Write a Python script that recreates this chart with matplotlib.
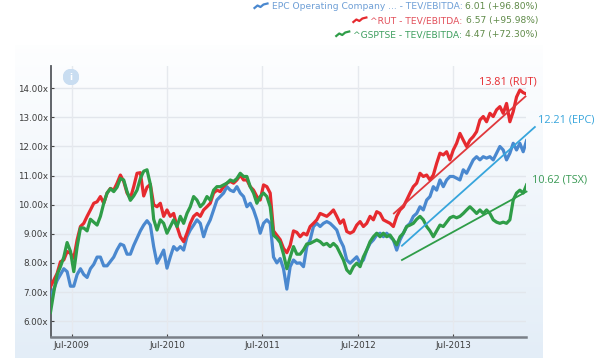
import numpy as np
import pandas as pd
import matplotlib
matplotlib.use("Agg")
import matplotlib.pyplot as plt
import matplotlib.dates as mdates
from matplotlib.lines import Line2D

# ---------------- data ----------------
start_date = "2009-04-11"
end_date = "2014-04-08"

rut = [7.18, 7.41, 7.64, 8.04, 8.10, 8.39, 8.33, 8.16, 8.79, 9.25,
       9.36, 9.60, 9.82, 10.05, 10.10, 10.28, 10.05, 10.40, 10.56, 10.50,
       10.74, 11.02, 10.80, 10.40, 10.22, 10.62, 11.08, 11.10, 10.30, 10.60,
       10.70, 10.00, 9.93, 10.05, 9.60, 9.82, 9.60, 9.70, 9.25, 8.90,
       8.73, 9.02, 9.36, 9.60, 9.70, 9.60, 9.82, 9.93, 10.05, 10.40,
       10.50, 10.45, 10.62, 10.74, 10.80, 10.74, 10.85, 11.02, 10.85, 10.85,
       10.62, 10.50, 10.28, 10.16, 10.68, 10.62, 10.40, 9.10, 8.95, 8.80,
       8.50, 8.35, 8.60, 9.10, 9.05,
       8.90, 9.02, 8.96, 9.25, 9.36, 9.48, 9.70, 9.65, 9.60, 9.70,
       9.82, 9.60, 9.36, 9.48, 9.08, 9.02, 9.08, 9.30, 9.42, 9.25,
       9.36, 9.60, 9.48, 9.76, 9.70, 9.48, 9.42, 9.36, 9.25, 9.60,
       9.82, 9.93, 10.16, 10.40, 10.62, 10.74, 11.08, 10.97, 11.02, 10.85,
       11.02, 11.42, 11.77, 11.71, 11.82, 11.54, 11.88, 12.11, 12.45, 12.22,
       12.00, 12.22, 12.34, 12.51, 12.91, 13.03, 12.85, 13.14, 13.03, 13.26,
       13.37, 13.14, 13.48, 12.85, 13.20, 13.70, 13.94, 13.85, 13.80]

epc = [6.85, 7.10, 7.40, 7.60, 7.80, 7.70, 7.20, 7.20, 7.60, 7.80,
       7.60, 7.50, 7.80, 7.95, 8.20, 8.20, 7.90, 7.90, 8.05, 8.20,
       8.45, 8.65, 8.60, 8.30, 8.30, 8.60, 8.85, 9.10, 9.30, 9.45,
       9.30, 8.56, 7.99, 8.21, 8.44, 7.82, 8.21, 8.56, 8.44, 8.56,
       8.44, 8.90, 9.13, 9.30, 9.48, 9.36, 8.90, 9.25, 9.48, 9.82,
       10.16, 10.28, 10.40, 10.62, 10.50, 10.45, 10.62, 10.40, 10.28, 9.93,
       10.05, 9.82, 9.48, 9.02, 9.36, 9.48, 9.36, 8.20, 8.00, 8.15,
       7.80, 7.10, 7.87, 8.10, 7.99,
       8.00, 7.87, 8.56, 8.79, 9.25, 9.36, 9.25, 9.36, 9.42, 9.36,
       9.25, 9.13, 8.79, 8.56, 8.10, 7.99, 8.10, 8.21, 7.99, 8.10,
       8.44, 8.67, 8.79, 8.96, 9.02, 8.90, 9.02, 8.90, 8.79, 8.44,
       8.79, 9.02, 9.25, 9.36, 9.60, 9.70, 9.93, 9.82, 10.16, 10.28,
       10.62, 10.50, 10.85, 10.62, 10.85, 10.97, 10.97, 10.91, 10.85, 11.20,
       11.08, 11.31, 11.54, 11.65, 11.54, 11.65, 11.60, 11.65, 11.54, 11.77,
       12.00, 11.88, 11.54, 11.77, 12.11, 11.88, 12.11, 11.82, 12.20]

tsx = [6.30, 7.00, 7.60, 7.87, 8.20, 8.70, 8.40, 7.70, 8.55, 9.20,
       9.20, 9.10, 9.50, 9.40, 9.30, 9.60, 10.05, 10.40, 10.55, 10.45,
       10.60, 10.90, 10.85, 10.45, 10.15, 10.30, 10.50, 10.90, 11.15, 11.20,
       10.70, 9.50, 9.13, 9.48, 9.36, 9.02, 9.25, 9.48, 9.25, 9.60,
       9.36, 9.70, 9.93, 10.28, 10.16, 9.93, 10.05, 10.28, 10.16, 10.50,
       10.62, 10.62, 10.68, 10.74, 10.85, 10.80, 10.90, 11.08, 10.97, 10.97,
       10.62, 10.40, 10.05, 10.28, 10.40, 10.28, 9.93, 8.95, 8.85, 8.70,
       8.30, 7.80, 8.20, 8.56, 8.30,
       8.30, 8.45, 8.65, 8.67, 8.73, 8.79, 8.73, 8.62, 8.67, 8.56,
       8.67, 8.56, 8.33, 8.10, 7.76, 7.64, 7.87, 7.99, 7.87, 8.21,
       8.44, 8.73, 8.90, 9.02, 8.90, 9.02, 8.90, 8.96, 8.79, 8.62,
       8.90, 9.02, 9.25, 9.30, 9.36, 9.50, 9.60, 9.48, 9.25, 9.10,
       8.90, 9.10, 9.30, 9.25, 9.40, 9.55, 9.60, 9.55, 9.60, 9.70,
       9.82, 9.93, 9.82, 9.70, 9.82, 9.70, 9.82, 9.70, 9.48, 9.40,
       9.36, 9.40, 9.36, 9.48, 10.16, 10.40, 10.50, 10.40, 10.68]

# trend lines (start/end date, start/end value)
trend_dates = {"rut": ("2012-11-16", "2014-04-04"),
               "epc": ("2012-12-17", "2014-05-10"),
               "tsx": ("2012-12-17", "2014-04-08")}
trend_vals = {"rut": (9.70, 13.72), "epc": (8.59, 12.67), "tsx": (8.10, 10.45)}

yticks = [6, 7, 8, 9, 10, 11, 12, 13, 14]
xtick_dates = ["2009-07-01", "2010-07-01", "2011-07-01", "2012-07-01", "2013-07-01"]
xtick_labels = ["Jul-2009", "Jul-2010", "Jul-2011", "Jul-2012", "Jul-2013"]

legend_names = ["EPC Operating Company ... - TEV/EBITDA:",
                "^RUT - TEV/EBITDA:",
                "^GSPTSE - TEV/EBITDA:"]
legend_values = ["6.01 (+96.80%)", "6.57 (+95.98%)", "4.47 (+72.30%)"]
annotations = ["13.81 (RUT)", "12.21 (EPC)", "10.62 (TSX)"]
annot_pos = [("2014-02-20", 13.81 + 0.0), ("2014-08-15", 12.21), ("2014-08-01", 10.62)]

# ---------------- styling ----------------
C_RED = "#e62a2f"
C_BLUE = "#4a88cf"
C_GREEN = "#2f9d48"
C_BLUE_T = "#37a5dc"
C_RED_T = "#e0383c"
C_GREEN_T = "#2f9d48"

W, H = 600, 361
fig = plt.figure(figsize=(W / 100, H / 100), dpi=100)
fig.patch.set_facecolor("white")

# gradient panel
bg = fig.add_axes([15 / W, 1 - 358 / H, (543 - 15) / W, (358 - 45) / H], zorder=0)
grad = np.linspace(0, 1, 256).reshape(-1, 1)
c_top = np.array([0.995, 0.997, 1.0])
c_bot = np.array([0.89, 0.93, 0.97])
img = c_top[None, None, :] * (1 - grad[:, :, None]) + c_bot[None, None, :] * grad[:, :, None]
bg.imshow(img, aspect="auto", extent=[0, 1, 0, 1])
bg.set_axis_off()

ax = fig.add_axes([51 / W, 1 - 337 / H, (526 - 51) / W, (337 - 66) / H], zorder=1)
ax.set_facecolor("none")

dates = pd.date_range(start_date, end_date, periods=len(rut))

ax.set_xlim(pd.Timestamp("2009-04-13"), pd.Timestamp("2014-04-06"))
ax.set_ylim(5.454, 14.766)

# grid
for yv in yticks:
    ax.axhline(yv, color="#e2e6ec", lw=1.0, zorder=1)
for d in xtick_dates:
    ax.axvline(pd.Timestamp(d), color="#e6e9ee", lw=1.0, zorder=1)

ax.plot(dates, epc, color=C_BLUE, lw=2.3, zorder=3, solid_joinstyle="round")
ax.plot(dates, rut, color=C_RED, lw=2.3, zorder=4, solid_joinstyle="round")
ax.plot(dates, tsx, color=C_GREEN, lw=2.3, zorder=5, solid_joinstyle="round")

for key, col in (("rut", C_RED_T), ("epc", C_BLUE_T), ("tsx", C_GREEN_T)):
    d0, d1 = trend_dates[key]
    v0, v1 = trend_vals[key]
    ax.plot([pd.Timestamp(d0), pd.Timestamp(d1)], [v0, v1], color=col, lw=1.3,
            zorder=6, clip_on=False)

ax.set_yticks(yticks)
ax.set_yticklabels([f"{v:.2f}x" for v in yticks])
ax.set_xticks([pd.Timestamp(d) for d in xtick_dates])
ax.set_xticklabels(xtick_labels)
ax.tick_params(axis="y", labelsize=6.3, colors="#444444", length=2, width=0.8,
               direction="in", pad=2)
ax.tick_params(axis="x", labelsize=6.3, colors="#444444", length=2, width=0.8,
               direction="in", pad=3)
for lab in ax.get_xticklabels() + ax.get_yticklabels():
    lab.set_color("#3c3c3c")

for s in ("top", "right"):
    ax.spines[s].set_visible(False)
ax.spines["left"].set_color("#55595e")
ax.spines["left"].set_linewidth(1.3)
ax.spines["bottom"].set_color("#7a8088")
ax.spines["bottom"].set_linewidth(1.8)

# info icon
icon = fig.add_axes([63 / W, 1 - 85 / H, 16 / W, 16 / H], zorder=2)
icon.set_xlim(-1, 1)
icon.set_ylim(-1, 1)
icon.set_aspect("equal")
icon.add_patch(plt.Circle((0, 0), 0.95, color="#c9ddf1"))
icon.text(0, -0.05, "i", ha="center", va="center", color="white", fontsize=6,
          fontweight="bold")
icon.set_axis_off()

# annotations
annot_colors = [C_RED, C_BLUE_T, "#3a9a55"]
for txt, (d, v), col in zip(annotations, annot_pos, annot_colors):
    ax.text(pd.Timestamp(d), v, txt, color=col, fontsize=8, ha="center",
            va="center", family="Open Sans", clip_on=False) if False else None

ann_px = [(508, 82), (566, 120), (560, 180)]
for txt, (px, py), col in zip(annotations, ann_px, annot_colors):
    fig.text(px / W, 1 - py / H, txt, color=col, fontsize=7.8, ha="center",
             va="center", family="Open Sans")

# legend (top right)
fig.canvas.draw()
renderer = fig.canvas.get_renderer()
leg_y = [6.5, 20.5, 34.5]
name_colors = ["#6e9fd6", "#e2505b", "#3f9f5f"]
icon_colors = [C_BLUE, C_RED, C_GREEN]
right_px = 538
for name, val, ly, nc, ic in zip(legend_names, legend_values, leg_y, name_colors, icon_colors):
    t_val = fig.text(right_px / W, 1 - ly / H, val, color="#5f8a48", fontsize=6.6,
                     ha="right", va="center")
    bb = t_val.get_window_extent(renderer)
    t_name = fig.text((bb.x0 - 3) / W, 1 - ly / H, name, color=nc, fontsize=6.6,
                      ha="right", va="center")
    bb2 = t_name.get_window_extent(renderer)
    x1 = bb2.x0 - 4
    xs = np.array([x1 - 13, x1 - 10, x1 - 7, x1 - 4, x1]) / W
    ys = 1 - (ly + np.array([1.5, -1.0, 0.5, -2.0, -3.0])) / H
    fig.add_artist(Line2D(xs, ys, color=ic, lw=1.6, transform=fig.transFigure))

fig.savefig("out.png", dpi=100)
